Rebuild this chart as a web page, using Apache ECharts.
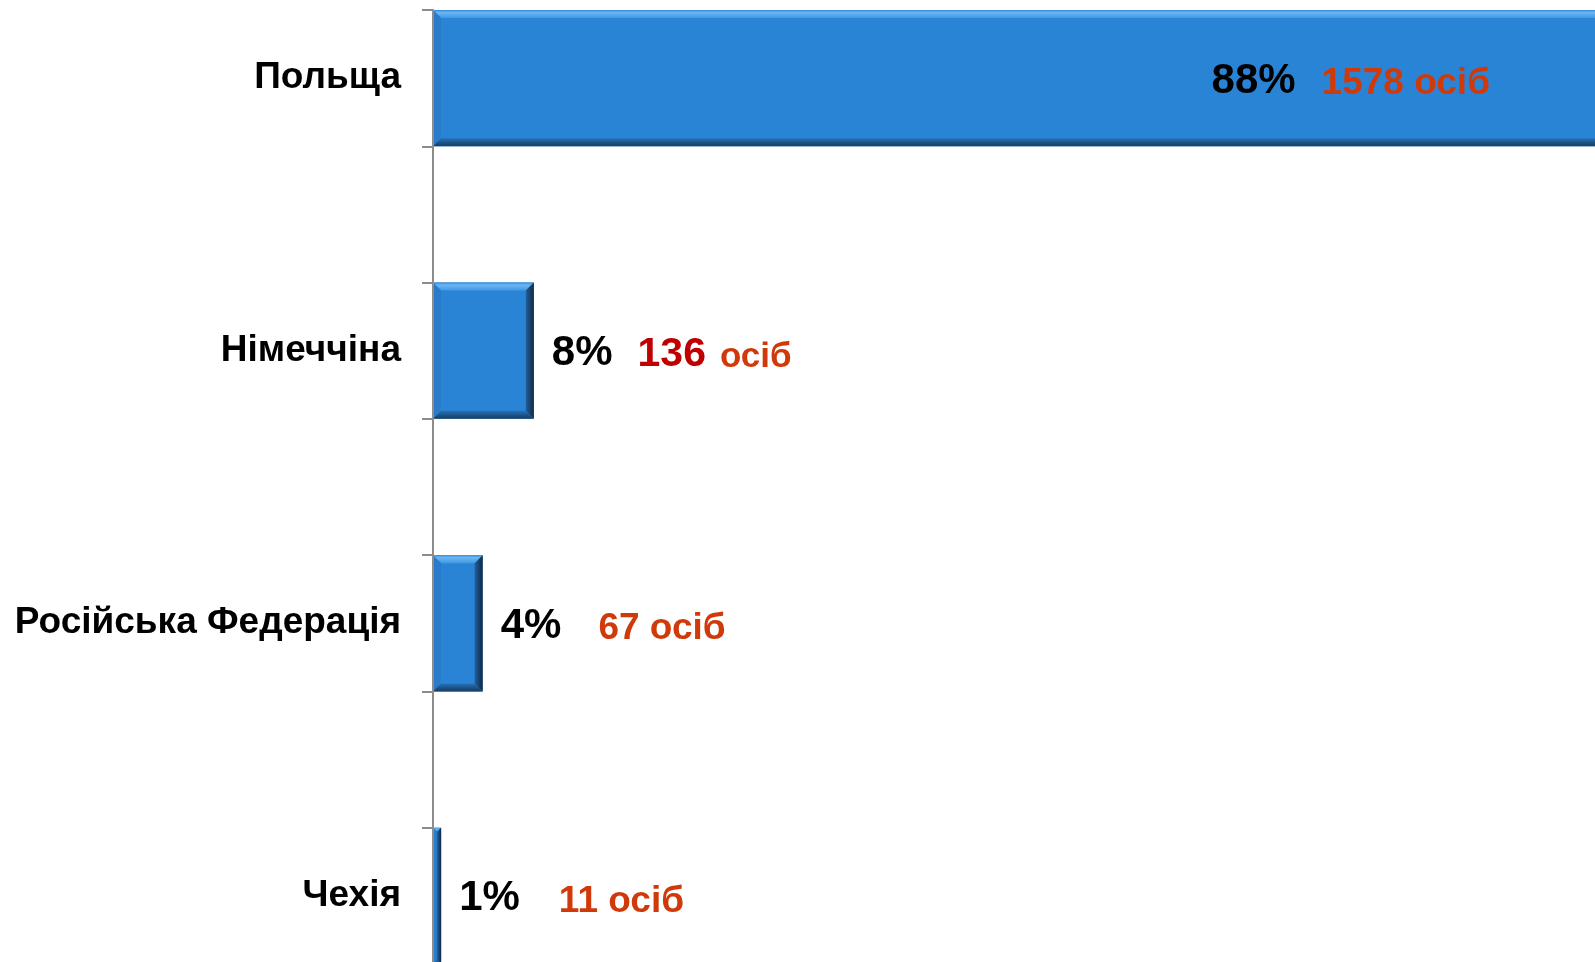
<!DOCTYPE html>
<html>
<head>
<meta charset="utf-8">
<script src="https://cdn.jsdelivr.net/npm/echarts@6/dist/echarts.min.js"></script>
<style>
html,body{margin:0;padding:0;background:#fff;overflow:hidden;}
#chart{width:1595px;height:962px;}
</style>
</head>
<body>
<div id="chart"></div>
<script>
// ---- data ----
const categories = ['Польща', 'Німеччіна', 'Російська Федерація', 'Чехія'];
const percents = [88, 8, 4, 1];
const counts = [1578, 136, 67, 11];
const unitText = 'осіб';

// ---- styles ----
const FONT = '"Liberation Sans", Arial, sans-serif';
const ORANGE = '#D03A0A';
const DARKRED = '#C00000';
const BLUE = '#2A84D6';
const gaps = [26, 25, 37, 39];
const highlightRow = 1;

// build interleaved category axis (blank slots between categories)
const axisCats = [];
categories.forEach((c, i) => { axisCats.push(c); if (i < categories.length - 1) axisCats.push(''); });

const rich = {
  p: {fontSize: 42, fontWeight: 'bold', color: '#000', fontFamily: FONT, verticalAlign: 'bottom'},
  n: {fontSize: 37, fontWeight: 'bold', color: ORANGE, fontFamily: FONT, verticalAlign: 'bottom'},
  d: {fontSize: 41, fontWeight: 'bold', color: DARKRED, fontFamily: FONT, verticalAlign: 'bottom'},
  u: {fontSize: 35, fontWeight: 'bold', color: ORANGE, fontFamily: FONT, verticalAlign: 'bottom'},
  s: {width: 14, fontSize: 35, fontFamily: FONT, verticalAlign: 'bottom'}
};
gaps.forEach((g, i) => { rich['g' + i] = {width: g, fontSize: 37, fontFamily: FONT, verticalAlign: 'bottom'}; });

function labelText(i) {
  if (i === highlightRow) {
    return '{p|' + percents[i] + '%}{g' + i + '| }{d|' + counts[i] + '}{s| }{u|' + unitText + '}';
  }
  return '{p|' + percents[i] + '%}{g' + i + '| }{n|' + counts[i] + ' ' + unitText + '}';
}

const barData = [];
const bevelData = [];
categories.forEach((c, i) => {
  const inside = i === 0;
  barData.push({
    value: counts[i],
    label: {
      show: true,
      position: inside ? 'insideRight' : 'right',
      distance: inside ? 113 : 18,
      offset: [0, 3],
      formatter: labelText(i),
      rich: rich
    }
  });
  bevelData.push([counts[i], i * 2]);
  if (i < categories.length - 1) barData.push('-');
});

const chart = echarts.init(document.getElementById('chart'), null, {renderer: 'canvas'});

function renderBevel(params, api) {
  const v = api.value(0);
  const idx = api.value(1);
  const start = api.coord([0, idx]);
  const end = api.coord([v, idx]);
  const h = api.size([0, 1])[1];
  const x0 = start[0], xr = end[0];
  const y0 = start[1] - h / 2, y1 = start[1] + h / 2;
  const w = xr - x0;
  const b = Math.min(8, w / 2);
  const lin = (x, y, x2, y2, stops) => new echarts.graphic.LinearGradient(x, y, x2, y2, stops);
  return {
    type: 'group',
    children: [
      {type: 'polygon', shape: {points: [[x0, y0], [xr, y0], [xr - b, y0 + b], [x0 + b, y0 + b]]},
        style: {fill: lin(0, 0, 0, 1, [{offset: 0, color: '#3389d8'}, {offset: 0.3, color: '#6ab6f4'}, {offset: 1, color: '#4298e4'}])}},
      {type: 'polygon', shape: {points: [[x0, y0], [x0 + b, y0 + b], [x0 + b, y1 - b], [x0, y1]]},
        style: {fill: '#2a7ccb'}},
      {type: 'polygon', shape: {points: [[x0, y1], [xr, y1], [xr - b, y1 - b], [x0 + b, y1 - b]]},
        style: {fill: lin(0, 0, 0, 1, [{offset: 0, color: '#2572ba'}, {offset: 0.7, color: '#1b4a77'}, {offset: 1, color: '#163e66'}])}},
      {type: 'polygon', shape: {points: [[xr - b, y0 + b], [xr, y0], [xr, y1], [xr - b, y1 - b]]},
        style: {fill: lin(0, 0, 1, 0, [{offset: 0, color: '#215f9a'}, {offset: 1, color: '#0f2945'}])}}
    ]
  };
}

chart.setOption({
  backgroundColor: '#fff',
  animation: false,
  grid: {left: 433, width: 1170, top: 10, height: 954, containLabel: false, outerBoundsMode: 'none'},
  xAxis: {
    type: 'value', min: 0, max: 1578, show: false,
    splitLine: {show: false}
  },
  yAxis: {
    type: 'category',
    inverse: true,
    data: axisCats,
    axisLine: {show: true, lineStyle: {color: '#8c8c8c', width: 2}},
    axisTick: {show: true, length: 11, lineStyle: {color: '#8c8c8c', width: 2}},
    axisLabel: {interval: 0, margin: 32, fontSize: 37, fontWeight: 'bold', color: '#000', fontFamily: FONT, padding: [6, 0, 0, 0]},
    z: 10
  },
  series: [
    {
      type: 'bar',
      data: barData,
      barCategoryGap: 0,
      itemStyle: {color: BLUE},
      z: 2
    },
    {
      type: 'custom',
      data: bevelData,
      encode: {x: 0, y: 1},
      renderItem: renderBevel,
      z: 3,
      silent: true
    }
  ]
});
</script>
</body>
</html>
